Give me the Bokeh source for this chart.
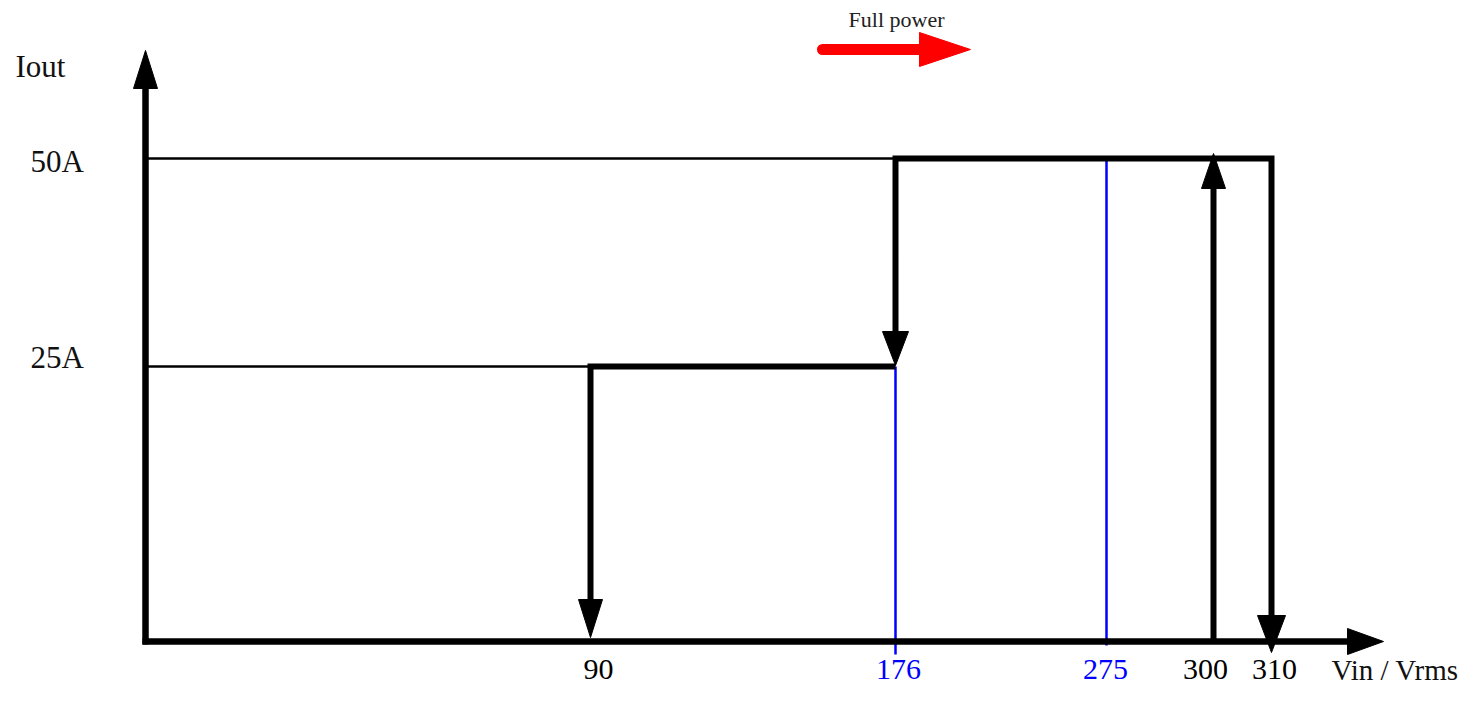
from bokeh.plotting import figure
from bokeh.models import Range1d, ColumnDataSource
from bokeh.core.properties import value
from bokeh.embed import file_html
from bokeh.resources import INLINE

# ---------------- data ----------------
volt_ticks = [90, 176, 275, 300, 310]
volt_labels = ["90", "176", "275", "300", "310"]
volt_colors = ["black", "blue", "blue", "black", "black"]
amp_ticks = [25, 50]
amp_labels = ["25A", "50A"]
x_title = "Vin / Vrms"
y_title = "Iout"
note_text = "Full power"

# ---------------- schematic layout (diagram is not to scale) ----------------
volt_pos = {90: 445, 176: 750, 275: 961, 300: 1068, 310: 1126}
amp_pos = {25: 275, 50: 483}
volt_label_nudge = [8, 3, -1, -8, 3]
amp_label_nudge = [9, -3]

FONT = "Liberation Serif"
W, H = 1461, 688
X0, Y0 = -145, -47

p = figure(width=W, height=H, output_backend="svg", toolbar_location=None,
           x_range=Range1d(X0, X0 + W), y_range=Range1d(Y0, Y0 + H),
           x_axis_location=None, y_axis_location=None, min_border=0)
p.grid.visible = False
p.outline_line_color = None
p.background_fill_color = "white"
p.border_fill_color = "white"

px = lambda v: volt_pos[v]
py = lambda a: amp_pos[a]


def head(x, y, dx, dy, length, width, color="black"):
    """triangle with tip at (x, y) pointing along (dx, dy)"""
    bx, by = x - dx * length, y - dy * length
    nx, ny = -dy, dx
    p.patch([x, bx + nx * width / 2, bx - nx * width / 2],
            [y, by + ny * width / 2, by - ny * width / 2],
            fill_color=color, line_color=color, line_width=1)
    return bx, by


# thin reference lines
p.line([0, px(176)], [py(50), py(50)], line_color="black", line_width=2.5)
p.line([0, px(90)], [py(25), py(25)], line_color="black", line_width=2.5)

# blue voltage markers
p.line([px(176), px(176)], [-13, py(25)], line_color="blue", line_width=2.5)
p.line([px(275), px(275)], [-4, py(50)], line_color="blue", line_width=2.5)

# axes
bx, by = head(0, 591, 0, 1, 38, 24)
p.line([0, 0], [-3, by + 2], line_color="black", line_width=6.5)
bx, by = head(1238, 0, 1, 0, 36, 26)
p.line([-3, bx + 2], [0, 0], line_color="black", line_width=6.5)

# step path 90 -> 176 at 25A
bx, by = head(px(90), 4, 0, -1, 38, 24)
p.line([px(90), px(90), px(176)], [by - 2, py(25), py(25)],
       line_color="black", line_width=6, line_join="miter")

# 176 drop, 50A plateau, 310 drop
bx176, by176 = head(px(176), py(25) + 1, 0, -1, 34, 26)
bx310, by310 = head(px(310), -11, 0, -1, 37, 28)
p.line([px(176), px(176), px(310), px(310)],
       [by176 - 2, py(50), py(50), by310 - 2],
       line_color="black", line_width=6, line_join="miter")

# 300 rise
bx, by = head(px(300), py(50) + 5, 0, 1, 35, 24)
p.line([px(300), px(300)], [0, by + 2], line_color="black", line_width=6)

# red "Full power" arrow
bx, by = head(825, 592, 1, 0, 51, 34, color="#ff0000")
p.line([677, bx + 2], [592, 592], line_color="#ff0000", line_width=11, line_cap="round")
p.text(x=[751], y=[622], text=[note_text], text_font=value(FONT), text_font_size="22px",
       text_align="center", text_baseline="alphabetic", text_color="#222222")

# tick labels (x)
xs = ColumnDataSource(dict(x=[px(v) + n for v, n in zip(volt_ticks, volt_label_nudge)],
                           y=[-28] * len(volt_ticks), t=volt_labels, c=volt_colors))
p.text(x="x", y="y", text="t", text_color="c", source=xs, text_font=value(FONT),
       text_font_size="30px", text_align="center", text_baseline="alphabetic")

# tick labels (y)
ys = ColumnDataSource(dict(x=[-115] * len(amp_ticks),
                           y=[py(a) + n for a, n in zip(amp_ticks, amp_label_nudge)],
                           t=amp_labels))
p.text(x="x", y="y", text="t", source=ys, text_font=value(FONT), text_font_size="31px",
       text_align="left", text_baseline="alphabetic", text_color="#111111")

# axis titles
p.text(x=[-130], y=[575], text=[y_title], text_font=value(FONT), text_font_size="31px",
       text_align="left", text_baseline="alphabetic", text_color="#111111")
p.text(x=[1313], y=[-28], text=[x_title], text_font=value(FONT), text_font_size="29px",
       text_align="right", text_baseline="alphabetic", text_color="#111111")

open("out.html", "w").write(file_html(p, INLINE))
